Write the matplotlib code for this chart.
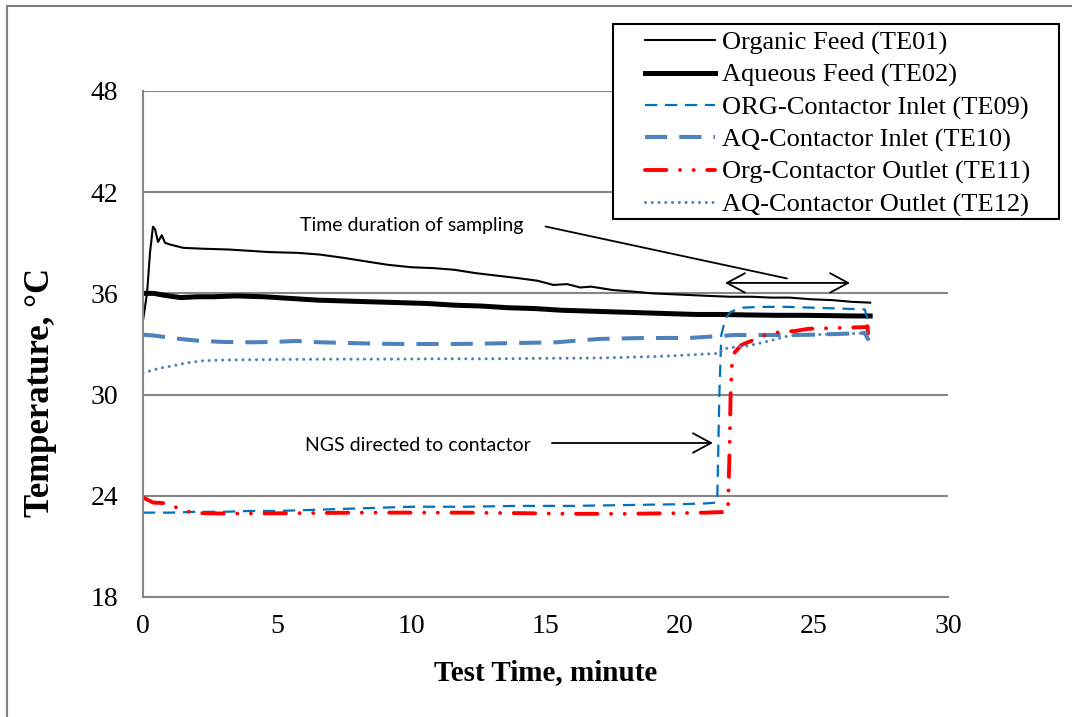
import matplotlib
matplotlib.use("Agg")
import matplotlib.pyplot as plt
from matplotlib.lines import Line2D
from matplotlib.patches import Rectangle

# Organic Feed (TE01)
t_te01 = [0, 0.15, 0.26, 0.37, 0.45, 0.56, 0.7, 0.82, 1.0, 1.5, 2.2, 3.2, 4.7,
          5.8, 6.6, 7.5, 8.3, 9.1, 10.0, 10.8, 11.6, 12.4, 13.2, 14.0, 14.7,
          15.3, 15.8, 16.3, 16.7, 17.5, 18.3, 19.0, 19.7, 20.4, 21.1, 21.9,
          22.7, 23.4, 24.1, 24.9, 25.7, 26.4, 27.1]
te01 = [34.4, 36.0, 38.4, 39.95, 39.8, 39.05, 39.45, 39.0, 38.9, 38.7, 38.65,
        38.6, 38.45, 38.4, 38.3, 38.1, 37.9, 37.7, 37.55, 37.5, 37.4, 37.2,
        37.05, 36.9, 36.75, 36.5, 36.55, 36.35, 36.4, 36.2, 36.1, 36.0, 35.95,
        35.9, 35.85, 35.8, 35.8, 35.75, 35.75, 35.65, 35.6, 35.5, 35.45]

# Aqueous Feed (TE02)
t_te02 = [0, 0.4, 0.75, 1.4, 2.0, 2.6, 3.5, 4.5, 5.5, 6.5, 7.5, 8.5, 9.6, 10.6,
          11.6, 12.6, 13.6, 14.6, 15.6, 16.6, 17.6, 18.6, 19.6, 20.6, 21.6,
          22.6, 23.6, 24.6, 25.6, 26.6, 27.1]
te02 = [36.0, 36.0, 35.9, 35.75, 35.8, 35.8, 35.85, 35.8, 35.7, 35.6, 35.55,
        35.5, 35.45, 35.4, 35.3, 35.25, 35.15, 35.1, 35.0, 34.95, 34.9, 34.85,
        34.8, 34.75, 34.75, 34.72, 34.7, 34.7, 34.68, 34.66, 34.66]

# ORG-Contactor Inlet (TE09)
t_te09 = [0, 1, 2, 3, 4, 5, 6, 7, 8, 9, 10, 12, 14, 16, 18, 20, 21.0, 21.4,
          21.48, 21.55, 21.7, 21.9, 22.3, 23, 24, 25, 26, 26.9, 27.0, 27.05]
te09 = [23.0, 23.0, 23.05, 23.05, 23.1, 23.1, 23.15, 23.2, 23.25, 23.3, 23.35,
        23.35, 23.4, 23.4, 23.45, 23.5, 23.55, 23.6, 30.0, 33.5, 34.5, 34.9,
        35.15, 35.2, 35.2, 35.15, 35.1, 35.05, 34.5, 34.0]

# AQ-Contactor Inlet (TE10)
t_te10 = [0, 0.4, 1.1, 2.0, 3.0, 4.0, 4.9, 5.7, 6.6, 7.6, 8.6, 9.7, 10.6, 11.6,
          12.6, 14.0, 15.4, 16.6, 17.0, 18.5, 20.4, 21.3, 22.0, 23.0, 24.1,
          25.0, 26.0, 26.9, 27.05]
te10 = [33.55, 33.5, 33.35, 33.2, 33.12, 33.1, 33.12, 33.18, 33.1, 33.06,
        33.02, 33.0, 33.0, 33.0, 33.02, 33.06, 33.1, 33.25, 33.3, 33.35, 33.36,
        33.45, 33.53, 33.53, 33.53, 33.55, 33.6, 33.65, 33.2]

# Org-Contactor Outlet (TE11)
t_te11 = [0, 0.37, 0.9, 1.4, 1.85, 2.9, 4, 6, 8, 10, 12, 14, 16, 18, 20, 21.0,
          21.8, 21.85, 21.9, 21.95, 22.05, 22.3, 22.7, 23.2, 23.7, 24.3, 24.8,
          25.9, 26.9, 27.0, 27.05]
te11 = [23.9, 23.6, 23.55, 23.2, 22.98, 22.95, 22.95, 22.97, 23.0, 23.0, 23.0,
        22.97, 22.93, 22.93, 22.97, 23.0, 23.05, 26.0, 30.0, 31.8, 32.5, 32.94,
        33.2, 33.53, 33.7, 33.77, 33.9, 33.95, 34.0, 34.05, 33.06]

# AQ-Contactor Outlet (TE12)
t_te12 = [0, 0.63, 1.1, 1.6, 2.2, 3.0, 5, 7, 9, 11, 13, 15, 17, 19, 20.4, 21.5,
          21.6, 22.0, 22.5, 23.0, 23.5, 24.1, 25, 26, 27.05]
te12 = [31.28, 31.57, 31.7, 31.87, 32.0, 32.05, 32.08, 32.1, 32.1, 32.12,
        32.12, 32.15, 32.17, 32.25, 32.35, 32.45, 32.7, 32.8, 32.88, 33.05,
        33.24, 33.5, 33.55, 33.6, 33.65]

x_ticks = [0, 5, 10, 15, 20, 25, 30]
y_ticks = [18, 24, 30, 36, 42, 48]

SERIF = "Liberation Serif"
SANS = "Lato"
BLUE = "#0070C0"
STEEL = "#4F81BD"
GRID = "#868686"

fig = plt.figure(figsize=(10.72, 7.17), dpi=100)
ax = fig.add_axes([0.1334, 0.1674, 0.7509, 0.7057])

# Plot the six thermocouples.
ax.plot(t_te01, te01, color="black", linewidth=1.5,
        label="Organic Feed (TE01)")
ax.plot(t_te02, te02, color="black", linewidth=3.6,
        label="Aqueous Feed (TE02)")
ax.plot(t_te09, te09, color=BLUE, linewidth=1.6,
        linestyle=(0, (5.5, 3.5)), label="ORG-Contactor Inlet (TE09)")
ax.plot(t_te10, te10, color=STEEL, linewidth=2.9,
        linestyle=(0, (5.5, 3.0)), label="AQ-Contactor Inlet (TE10)")
ax.plot(t_te11, te11, color="#FF0000", linewidth=2.8,
        linestyle=(0, (5.5, 3.5, 0.01, 3.5, 0.01, 3.5)),
        dash_capstyle="round", label="Org-Contactor Outlet (TE11)")
ax.plot(t_te12, te12, color=STEEL, linewidth=2.2,
        linestyle=(0, (0.01, 2.2)), dash_capstyle="round",
        label="AQ-Contactor Outlet (TE12)")

ax.set_xlim(0, 30)
ax.set_ylim(18, 48)
ax.set_xticks(x_ticks)
ax.set_yticks(y_ticks)
ax.tick_params(axis="both", length=0, labelsize=20)
ax.tick_params(axis="x", pad=12)
ax.tick_params(axis="y", pad=18)
for lab in ax.get_xticklabels() + ax.get_yticklabels():
    lab.set_family(SERIF)

ax.grid(axis="y", color=GRID, linewidth=1.5)
ax.set_axisbelow(True)
for side in ["top", "right"]:
    ax.spines[side].set_visible(False)
for side in ["left", "bottom"]:
    ax.spines[side].set_color(GRID)
    ax.spines[side].set_linewidth(1.5)

ax.set_xlabel("Test Time, minute", fontsize=21, fontweight="bold",
              family=SERIF)
ax.set_ylabel("Temperature, \u00b0C", fontsize=25, fontweight="bold",
              family=SERIF)
ax.xaxis.set_label_coords(0.5, -0.122)
ax.yaxis.set_label_coords(-0.107, 0.405)

# Annotations.
ax.text(10.0, 40.05, "Time duration of sampling", fontsize=14, family=SANS,
        ha="center", va="center")
ax.annotate("", xy=(24.1, 36.85), xytext=(14.9, 40.0),
            arrowprops=dict(arrowstyle="-", color="black", linewidth=1.3))
ax.annotate("", xy=(21.69, 36.62), xytext=(26.35, 36.62),
            arrowprops=dict(arrowstyle="<->,head_length=1.3,head_width=0.7",
                            color="black", linewidth=1.3,
                            shrinkA=0, shrinkB=0))
ax.text(10.25, 27.01, "NGS directed to contactor", fontsize=14, family=SANS,
        ha="center", va="center")
ax.annotate("", xy=(21.24, 27.13), xytext=(15.24, 27.13),
            arrowprops=dict(arrowstyle="->,head_length=1.3,head_width=0.7",
                            color="black", linewidth=1.3,
                            shrinkA=0, shrinkB=0))

# Legend box drawn on the figure, entries placed inside it.
fig.add_artist(Rectangle((613 / 1072, 1 - 219 / 717), 446 / 1072, 195 / 717,
                         transform=fig.transFigure, facecolor="white",
                         edgecolor="black", linewidth=1.5, zorder=3))
handles, labels = ax.get_legend_handles_labels()
leg = fig.legend(handles, labels, loc="upper left",
                 bbox_to_anchor=(645 / 1072, 1 - 31 / 717),
                 borderaxespad=0, borderpad=0, frameon=False,
                 handlelength=2.65, handletextpad=0.27, labelspacing=0.32,
                 prop={"family": SERIF, "size": 19})
leg.set_zorder(4)

# Outer border of the chart area.
fig.add_artist(Line2D([7 / 1072, 7 / 1072], [0, 1 - 6 / 717],
                      color="#808080", linewidth=1.5))
fig.add_artist(Line2D([7 / 1072, 1], [1 - 6 / 717, 1 - 6 / 717],
                      color="#808080", linewidth=1.5))

plt.savefig("out.png", dpi=100)
